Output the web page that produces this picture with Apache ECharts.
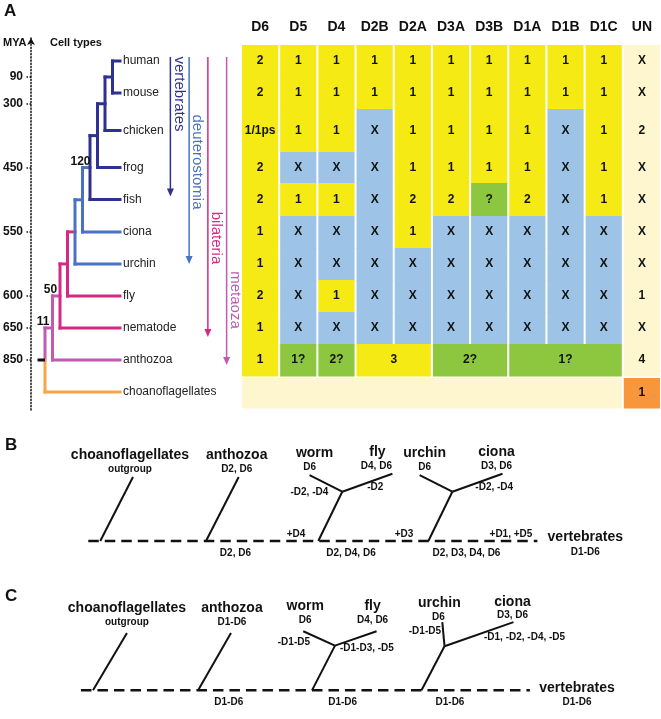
<!DOCTYPE html>
<html><head><meta charset="utf-8">
<script src="https://cdn.jsdelivr.net/npm/echarts@6/dist/echarts.min.js"></script>
<style>html,body{margin:0;padding:0;background:#fff}#c{width:661px;height:719px}</style>
</head><body><div id="c"></div>
<script>
// ================= DATA =================
const columns = ['D6','D5','D4','D2B','D2A','D3A','D3B','D1A','D1B','D1C','UN'];
const species = ['human','mouse','chicken','frog','fish','ciona','urchin','fly','nematode','anthozoa','choanoflagellates'];
// '<' = merged with the cell on the left
const rowHuman    = ['2','1','1','1','1','1','1','1','1','1','X'];
const rowMouse    = ['2','1','1','1','1','1','1','1','1','1','X'];
const rowChicken  = ['1/1ps','1','1','X','1','1','1','1','X','1','2'];
const rowFrog     = ['2','X','X','X','1','1','1','1','X','1','X'];
const rowFish     = ['2','1','1','X','2','2','?','2','X','1','X'];
const rowCiona    = ['1','X','X','X','1','X','X','X','X','X','X'];
const rowUrchin   = ['1','X','X','X','X','X','X','X','X','X','X'];
const rowFly      = ['2','X','1','X','X','X','X','X','X','X','1'];
const rowNematode = ['1','X','X','X','X','X','X','X','X','X','X'];
const rowAnthozoa = ['1','1?','2?','3','<','2?','<','1?','<','<','4'];
const rowChoano   = ['','<','<','<','<','<','<','<','<','<','1'];
const cellRows = [rowHuman,rowMouse,rowChicken,rowFrog,rowFish,rowCiona,rowUrchin,rowFly,rowNematode,rowAnthozoa,rowChoano];

// tree topology (ladder): join k joins previous clade with species[k]
const leafClade = ['vert','vert','vert','vert','vert','deut','deut','bilat','bilat','meta','choano'];
const joinClade = ['vert','vert','vert','vert','deut','deut','bilat','bilat','meta','meta'];
const supportJoin  = [5, 9, 10];
const supportValue = ['120','50','11'];
const myaLabels = ['90','300','450','550','600','650','850'];
const myaJoin   = [1, 2, 4, 6, 8, 9, 10];
const cladeNames   = ['vertebrates','deuterostomia','bilateria','metaoza'];
const cladeLastRow = [4, 6, 8, 9];

// panels B and C
const panelClades = [['choanoflagellates'],['anthozoa'],['worm','fly'],['urchin','ciona']];
const infoB = ['outgroup','D2, D6','D6','D4, D6','D6','D3, D6'];
const lossB = ['','','-D2, -D4','-D2','','-D2, -D4'];
const gainB = ['','','+D4','+D3','+D1, +D5'];
const stemB = ['','D2, D6','D2, D4, D6','D2, D3, D4, D6'];
const vertInfoB = 'D1-D6';
const infoC = ['outgroup','D1-D6','D6','D4, D6','D6','D3, D6'];
const lossC = ['','','-D1-D5','-D1-D3, -D5','-D1-D5','-D1, -D2, -D4, -D5'];
const gainC = ['','','','',''];
const stemC = ['','D1-D6','D1-D6','D1-D6'];
const vertInfoC = 'D1-D6';

// ================= STYLE / LAYOUT =================
const FF = '"Liberation Sans", Arial, Helvetica, sans-serif';
const CL = {vert:'#2e3192', deut:'#4a72c2', bilat:'#d42a86', meta:'#c15bb1', choano:'#f8a548'};
const cladeColors = [CL.vert, CL.deut, CL.bilat, CL.meta];
const CELL = {yes:'#f5ea14', no:'#9dc3e6', unsure:'#8dc63f', un:'#fef6cf', out:'#f7963a'};
// row layout (relative heights of table rows)
const rowHeights = [32,32,43,31,33,32,32,32,32,32,32];
const rowEdges = [0]; rowHeights.forEach(h => rowEdges.push(rowEdges[rowEdges.length-1] + h));
const TOTAL = rowEdges[rowEdges.length-1];
const rowCenter = rowHeights.map((h, i) => rowEdges[i] + h/2);
const cladeTextY = [49, 117, 193, 255];
const cladeArrowTop = 12;
const cladeArrowPad = [-3, 0, 9, 5];

function cellColor(v, r, c){
  if (c === columns.length-1) return r === species.length-1 ? CELL.out : CELL.un;
  if (r === species.length-1) return CELL.un;
  if (v.indexOf('?') >= 0) return CELL.unsure;
  if (v === 'X') return CELL.no;
  return CELL.yes;
}

// table items
const tableItems = [];
cellRows.forEach((row, r) => {
  row.forEach((v, c) => {
    if (v === '<') return;
    let span = 1;
    while (c+span < row.length && row[c+span] === '<') span++;
    tableItems.push({c, r, span, text:v, color:cellColor(v, r, c)});
  });
});

// tree items
const treeH = [], treeV = [];
const joinTop = [0], joinMid = [0];
let prevY = rowCenter[0], prevL = 0;
for (let k = 1; k < species.length; k++){
  const jc = CL[joinClade[k-1]], lc = CL[leafClade[k]];
  const yk = rowCenter[k];
  const mid = (prevY + yk)/2;
  treeH.push({t:'line', a:[k,prevY], b:[prevL,prevY], color: k===1 ? CL[leafClade[0]] : jc, w:3, cap:'square'});
  treeH.push({t:'line', a:[k,yk], b:[0,yk], color:lc, w:3, cap:'square'});
  if (k === species.length-1){
    treeV.push({t:'line', a:[k,prevY], b:[k,mid], color:jc, w:3, cap:'square'});
    treeV.push({t:'line', a:[k,mid], b:[k,yk], color:lc, w:3, cap:'square'});
    treeV.push({t:'line', a:[k,mid], b:[k+1,mid], color:'#111', w:3, cap:'butt'});
  } else {
    treeV.push({t:'line', a:[k,prevY], b:[k,yk], color:jc, w:3, cap:'square'});
  }
  joinTop.push(prevY); joinMid.push(mid);
  prevY = mid; prevL = k;
}
const treeItems = treeH.concat(treeV);
species.forEach((s, i) => treeItems.push({t:'text', p:[0,rowCenter[i]], text:s, dx:3, align:'left', font:'12px '+FF, color:'#222'}));
supportJoin.forEach((k, i) => treeItems.push({t:'text', p:[k, joinTop[k]], text:supportValue[i], dx:-2, dy:-6, font:'bold 12px '+FF}));
const myaVals = myaJoin.map(k => -joinMid[k]);

// clade arrows
const cladeItems = [];
cladeNames.forEach((n, i) => {
  cladeItems.push({t:'arrow', a:[i,cladeArrowTop], b:[i, rowCenter[cladeLastRow[i]]+cladeArrowPad[i]], color:cladeColors[i], w:1.5});
  cladeItems.push({t:'text', p:[i, cladeTextY[i]], text:n, dx:8.5, rot:-Math.PI/2, font:'15px '+FF, color:cladeColors[i]});
});

// panel geometry (schematic units)
const GB = {
  lineStart:-0.08, lineEnd:4.04,
  clades:[
    {base:0.03, tips:[[0.33,1]]},
    {base:1.0,  tips:[[1.30,1]]},
    {base:2.03, junc:[2.25,0.77], tips:[[1.95,1.03],[2.71,1.05]]},
    {base:3.04, junc:[3.26,0.77], tips:[[2.96,1.03],[3.72,1.05]]}
  ],
  nameDx:[-3,-2,5,-15,5,-6], infoDx:[-3,-2,0,-16,5,-6],
  nameDy:[-22,-22,-22,-22,-22,-22], infoDy:[-8,-8,-8,-8,-8,-8],
  lossPos:[null,null,[-14,1,'right'],[25,-4,'left'],null,[23,-4,'left']],
  stemS:[null,1.27,2.33,3.39],
  gainAt:[null,null,[2.03,-13],[3.04,-15],[4.04,-5]],
  vert:[4.48,0.06], vertInfoDy:15
};
const GC = {
  lineStart:-0.11, lineEnd:3.99,
  clades:[
    {base:0.0,  tips:[[0.31,1]]},
    {base:0.96, tips:[[1.26,1]]},
    {base:2.0,  junc:[2.21,0.78], tips:[[1.92,1.03],[2.59,1.03]]},
    {base:3.0,  junc:[3.21,0.77], tips:[[3.19,1.19],[3.84,1.19]]}
  ],
  nameDx:[0,1,2,-4,-3,-1], infoDx:[0,1,2,-4,-4,-1],
  nameDy:[-25,-25,-25,-25,-19,-20], infoDy:[-11,-11,-11,-11,-5,-7],
  lossPos:[null,null,[-25,-3,'right'],[5,3,'left'],[-3.5,-15,'right'],[39.5,-9,'left']],
  stemS:[null,1.24,2.28,3.26],
  gainAt:[null,null,null,null,null],
  vert:[4.42,0.03], vertInfoDy:14
};

function buildPanel(info, loss, gain, stem, vertInfo, G){
  const it = [];
  it.push({t:'line', a:[G.lineStart,0], b:[G.lineEnd,0], color:'#111', w:2.5, dash:[10.5,6]});
  let ti = 0;
  panelClades.forEach((clade, ci) => {
    const g = G.clades[ci];
    if (clade.length === 1){
      it.push({t:'line', a:[g.base,0], b:g.tips[0], color:'#111', w:2});
    } else {
      it.push({t:'line', a:[g.base,0], b:g.junc, color:'#111', w:2});
      g.tips.forEach(tp => it.push({t:'line', a:g.junc, b:tp, color:'#111', w:2}));
    }
    clade.forEach((name, j) => {
      const tp = g.tips[j], idx = ti++;
      it.push({t:'text', p:tp, text:name, dx:G.nameDx[idx], dy:G.nameDy[idx], font:'bold 14px '+FF});
      it.push({t:'text', p:tp, text:info[idx], dx:G.infoDx[idx], dy:G.infoDy[idx], font:'bold 10px '+FF});
      if (loss[idx]){
        const lp = G.lossPos[idx];
        it.push({t:'text', p:g.junc, text:loss[idx], dx:lp[0], dy:lp[1], align:lp[2], font:'bold 10px '+FF});
      }
    });
    if (stem[ci]) it.push({t:'text', p:[G.stemS[ci],0], text:stem[ci], dy:12, font:'bold 10px '+FF});
  });
  gain.forEach((g, si) => {
    if (!g) return;
    const gp = G.gainAt[si];
    it.push({t:'text', p:[gp[0],0], text:g, dx:gp[1], dy:-7, align:'right', font:'bold 10px '+FF});
  });
  it.push({t:'text', p:G.vert, text:'vertebrates', font:'bold 14px '+FF});
  it.push({t:'text', p:G.vert, text:vertInfo, dy:G.vertInfoDy, font:'bold 10px '+FF});
  return it;
}
const panelBItems = buildPanel(infoB, lossB, gainB, stemB, vertInfoB, GB);
const panelCItems = buildPanel(infoC, lossC, gainC, stemC, vertInfoC, GC);

// generic drawing series
function drawSeries(idx, items){
  return {
    type:'custom', coordinateSystem:'cartesian2d', xAxisIndex:idx, yAxisIndex:idx, silent:true,
    data: items.map(it => (it.a || it.p).slice()),
    renderItem(params, api){
      const it = items[params.dataIndex];
      if (it.t === 'line'){
        const p1 = api.coord(it.a), p2 = api.coord(it.b);
        return {type:'line', shape:{x1:p1[0],y1:p1[1],x2:p2[0],y2:p2[1]},
          style:{stroke:it.color||'#111', lineWidth:it.w, lineDash:it.dash||null, lineCap:it.cap||'butt', fill:null}};
      }
      if (it.t === 'arrow'){
        const p1 = api.coord(it.a), p2 = api.coord(it.b);
        return {type:'group', children:[
          {type:'line', shape:{x1:p1[0],y1:p1[1],x2:p2[0],y2:p2[1]-6}, style:{stroke:it.color, lineWidth:it.w}},
          {type:'polygon', shape:{points:[[p2[0],p2[1]],[p2[0]-3.5,p2[1]-8],[p2[0]+3.5,p2[1]-8]]}, style:{fill:it.color}}
        ]};
      }
      const p = api.coord(it.p);
      return {type:'text', x:p[0]+(it.dx||0), y:p[1]+(it.dy||0), rotation:it.rot||0,
        style:{text:it.text, fill:it.color||'#111', font:it.font, align:it.align||'center', verticalAlign:'middle'}};
    }
  };
}

const lastRowGap = 2;
const tableSeries = {
  type:'custom', coordinateSystem:'cartesian2d', xAxisIndex:3, yAxisIndex:3, silent:true,
  data: tableItems.map(t => [t.c, rowCenter[t.r]]),
  renderItem(params, api){
    const t = tableItems[params.dataIndex];
    const pT = api.coord([t.c, rowEdges[t.r]]), pB = api.coord([t.c, rowEdges[t.r+1]]);
    const bw = api.size([1, 0])[0];
    const gap = t.r === species.length-1 ? lastRowGap : 0;
    const x = pT[0]-bw/2+1, y = pT[1]+gap, w = bw*t.span-2, h = pB[1]-pT[1]-gap;
    return {type:'group', children:[
      {type:'rect', shape:{x:x, y:y, width:w, height:h+0.6}, style:{fill:t.color}},
      {type:'text', x:x+w/2, y:y+h/2, style:{text:t.text, fill:'#111', font:'bold 12px '+FF, align:'center', verticalAlign:'middle'}}
    ]};
  }
};

const titleStyle = (size) => ({fontSize:size, fontWeight:'bold', color:'#111', fontFamily:FF});
const option = {
  animation:false,
  backgroundColor:'#ffffff',
  title:[
    {text:'A', left:4, top:3, padding:0, textStyle:titleStyle(17)},
    {text:'MYA', left:3, top:37, padding:0, textStyle:titleStyle(11)},
    {text:'Cell types', left:50, top:37, padding:0, textStyle:titleStyle(11)},
    {text:'B', left:5, top:437, padding:0, textStyle:titleStyle(17)},
    {text:'C', left:5, top:588, padding:0, textStyle:titleStyle(17)}
  ],
  grid:[
    {left:31, top:38, width:1, height:372},
    {left:37.5, top:45, width:82.5, height:TOTAL},
    {left:161, top:45, width:75, height:TOTAL},
    {left:241, top:45, width:420, height:TOTAL},
    {left:42.5, top:438.6, width:599.5, height:134.4},
    {left:38.25, top:598.6, width:602.25, height:134.4}
  ],
  xAxis:[
    {gridIndex:0, type:'value', show:false, min:0, max:1},
    {gridIndex:1, type:'value', show:false, min:0, max:11, inverse:true},
    {gridIndex:2, type:'category', show:false, data:cladeNames},
    {gridIndex:3, type:'category', position:'top', data:columns,
      axisLine:{show:false}, axisTick:{show:false},
      axisLabel:{interval:0, margin:11, fontSize:14, fontWeight:'bold', color:'#111', fontFamily:FF}},
    {gridIndex:4, type:'value', show:false, min:-0.5, max:5},
    {gridIndex:5, type:'value', show:false, min:-0.5, max:5}
  ],
  yAxis:[
    {gridIndex:0, type:'value', min:-(TOTAL+2), max:7, position:'left', splitLine:{show:false},
      axisLine:{show:true, onZero:false, symbol:['none','arrow'], symbolSize:[6,7], lineStyle:{type:[1.2,2], width:1.5, color:'#111'}},
      axisTick:{show:true, customValues:myaVals, length:5, lineStyle:{type:[1.5,1.5], width:1.5, color:'#111'}},
      axisLabel:{customValues:myaVals, margin:8, fontSize:12, fontWeight:'bold', color:'#111', fontFamily:FF,
        formatter:(v) => { let best=0; myaVals.forEach((m,i)=>{ if (Math.abs(m-v) < Math.abs(myaVals[best]-v)) best=i; }); return myaLabels[best]; }}},
    {gridIndex:1, type:'value', show:false, min:0, max:TOTAL, inverse:true},
    {gridIndex:2, type:'value', show:false, min:0, max:TOTAL, inverse:true},
    {gridIndex:3, type:'value', show:false, min:0, max:TOTAL, inverse:true},
    {gridIndex:4, type:'value', show:false, min:-0.5, max:1.6},
    {gridIndex:5, type:'value', show:false, min:-0.5, max:1.6}
  ],
  series:[
    tableSeries,
    drawSeries(1, treeItems),
    drawSeries(2, cladeItems),
    drawSeries(4, panelBItems),
    drawSeries(5, panelCItems)
  ]
};
const chart = echarts.init(document.getElementById('c'), null, {renderer:'canvas'});
chart.setOption(option);
</script></body></html>
